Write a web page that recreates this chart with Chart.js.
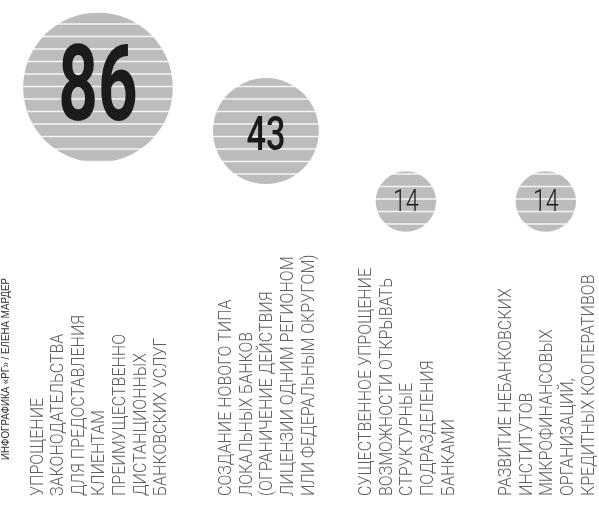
<!DOCTYPE html>
<html lang="ru">
<head>
<meta charset="UTF-8">
<title>Банковские меры</title>
<script src="https://cdn.jsdelivr.net/npm/chart.js"></script>
<style>
    html, body { margin: 0; padding: 0; background: #fff; }
    #wrap { width: 599px; height: 522px; }
</style>
</head>
<body>
<div id="wrap"><canvas id="chart" width="599" height="522"></canvas></div>
<script>
// label lines for every bubble (one entry per printed line)
const categories = [
    ["УПРОЩЕНИЕ", "ЗАКОНОДАТЕЛЬСТВА", "ДЛЯ ПРЕДОСТАВЛЕНИЯ", "КЛИЕНТАМ", "ПРЕИМУЩЕСТВЕННО", "ДИСТАНЦИОННЫХ", "БАНКОВСКИХ УСЛУГ"],
    ["СОЗДАНИЕ НОВОГО ТИПА", "ЛОКАЛЬНЫХ БАНКОВ", "(ОГРАНИЧЕНИЕ ДЕЙСТВИЯ", "ЛИЦЕНЗИИ ОДНИМ РЕГИОНОМ", "ИЛИ ФЕДЕРАЛЬНЫМ ОКРУГОМ)"],
    ["СУЩЕСТВЕННОЕ УПРОЩЕНИЕ", "ВОЗМОЖНОСТИ ОТКРЫВАТЬ", "СТРУКТУРНЫЕ", "ПОДРАЗДЕЛЕНИЯ", "БАНКАМИ"],
    ["РАЗВИТИЕ НЕБАНКОВСКИХ", "ИНСТИТУТОВ", "МИКРОФИНАНСОВЫХ", "ОРГАНИЗАЦИЙ,", "КРЕДИТНЫХ КООПЕРАТИВОВ"]
];
const values = [86, 43, 14, 14];
const credit = "ИНФОГРАФИКА «РГ» / ЕЛЕНА МАРДЕР";

// each column is as wide as its label block, bubble sits in the middle
let acc = 0;
const columnCenters = categories.map(lines => {
    const c = acc + lines.length / 2;
    acc += lines.length;
    return c;
});

// striped fill
function makeStripes() {
    const c = document.createElement("canvas");
    c.width = 4;
    c.height = 25;
    const p = c.getContext("2d");
    p.fillStyle = "#bbbcbe";
    p.fillRect(0, 0, 4, 25);
    p.fillStyle = "#f4f4f4";
    p.fillRect(0, 10.75, 4, 1.5);
    p.fillRect(0, 23.25, 4, 1.5);
    return p.createPattern(c, "repeat");
}

const numberFonts = [
    { size: 105, weight: 700, sx: 0.66, dy: -5 },
    { size: 49, weight: 500, sx: 0.7, dy: 2 },
    { size: 31, weight: 300, sx: 0.75, dy: -2 },
    { size: 31, weight: 300, sx: 0.75, dy: -2 }
];

const textPlugin = {
    id: "texts",
    afterDraw(chart) {
        const ctx = chart.ctx;
        const xScale = chart.scales.x;
        const meta = chart.getDatasetMeta(0);

        // numbers inside bubbles
        ctx.save();
        ctx.fillStyle = "#1b1b1b";
        ctx.textAlign = "center";
        ctx.textBaseline = "alphabetic";
        meta.data.forEach((el, i) => {
            const f = numberFonts[i];
            ctx.save();
            ctx.font = f.weight + " " + f.size + "px Roboto";
            ctx.translate(el.x, el.y + f.size * 0.711 / 2 + f.dy);
            ctx.scale(f.sx, 1);
            ctx.fillText(String(values[i]), 0, 0);
            ctx.restore();
        });
        ctx.restore();

        // rotated labels
        const pitch = 20.6, cap = 13, bottom = 496;
        ctx.save();
        ctx.fillStyle = "#5e5e5e";
        ctx.font = "300 18px Roboto";
        ctx.textAlign = "left";
        categories.forEach((lines, i) => {
            const cx = xScale.getPixelForValue(columnCenters[i]);
            const left = cx - ((lines.length - 1) * pitch + cap) / 2;
            lines.forEach((line, j) => {
                ctx.save();
                ctx.translate(left + j * pitch + cap, bottom);
                ctx.rotate(-Math.PI / 2);
                ctx.scale(0.89, 1);
                ctx.fillText(line, 0, 0);
                ctx.restore();
            });
        });

        // credit
        ctx.fillStyle = "#333";
        ctx.font = "10px 'Liberation Sans'";
        const w = ctx.measureText(credit).width;
        ctx.translate(9, 460);
        ctx.rotate(-Math.PI / 2);
        ctx.scale(182 / w, 1);
        ctx.fillText(credit, 0, 0);
        ctx.restore();
    }
};

const ctx = document.getElementById("chart").getContext("2d");
new Chart(ctx, {
    type: "bubble",
    data: {
        datasets: [{
            data: values.map((v, i) => ({ x: columnCenters[i], y: v, r: 8.07 * Math.sqrt(v) })),
            backgroundColor: makeStripes(),
            borderWidth: 0,
            hoverBorderWidth: 0,
            clip: false
        }]
    },
    options: {
        responsive: false,
        animation: false,
        events: [],
        layout: { autoPadding: false, padding: { top: 0, left: 0, right: 0, bottom: 272 } },
        plugins: { legend: { display: false }, tooltip: { enabled: false } },
        scales: {
            x: { type: "linear", min: 0, max: 21.4, display: false },
            y: { type: "logarithmic", min: 6.47, max: 346.4, display: false }
        }
    },
    plugins: [textPlugin]
});
</script>
</body>
</html>
